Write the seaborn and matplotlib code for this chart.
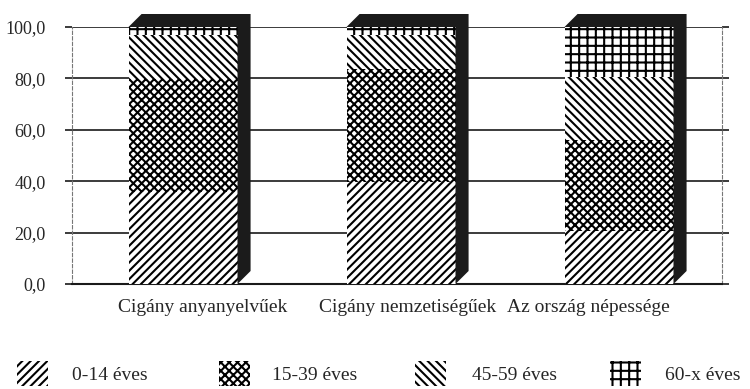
import numpy as np
import pandas as pd
import matplotlib
matplotlib.use("Agg")
import matplotlib.pyplot as plt
from matplotlib.patches import Rectangle
import seaborn as sns

# Age structure (%) of the three population groups
categories = ["Cigány anyanyelvűek", "Cigány nemzetiségűek", "Az ország népessége"]
age_0_14 = [35.7, 39.8, 20.5]
age_15_39 = [43.9, 43.7, 35.6]
age_45_59 = [17.1, 13.4, 24.4]
age_60_x = [3.3, 3.1, 19.5]
legend_labels = ["0-14 éves", "15-39 éves", "45-59 éves", "60-x éves"]
y_ticks = [0, 20, 40, 60, 80, 100]

hatches = ["////", "xxxx", "\\\\\\\\", "++"]

sns.set_style("white")
plt.rcParams["font.family"] = ["Liberation Serif", "DejaVu Serif"]
plt.rcParams["hatch.linewidth"] = 1.5
plt.rcParams["hatch.color"] = "black"

W, H = 750, 389
fig = plt.figure(figsize=(W / 100, H / 100), dpi=100)
ax = fig.add_axes([72 / W, (H - 284) / H, 650 / W, (284 - 27) / H])

layers = np.array([age_0_14, age_15_39, age_45_59, age_60_x])
tops = np.cumsum(layers, axis=0)

# stacked bars: draw the tallest cumulative level first, lower levels on top
for i in range(len(layers) - 1, -1, -1):
    sns.barplot(x=categories, y=tops[i], color="white", saturation=1,
                edgecolor="black", linewidth=0, hatch=hatches[i],
                width=0.5, errorbar=None, ax=ax, zorder=3)

# dark 3-D top and side faces
xs = np.arange(len(categories))
half = 0.25
dx, dy = 0.06, 5.06
for x, total in zip(xs, tops[-1]):
    xl, xr = x - half, x + half
    ax.fill([xl, xl + dx, xr + dx, xr + dx, xr, xr],
            [total, total + dy, total + dy, dy, 0, total],
            color="#1b1b1b", lw=0, zorder=4, clip_on=False)

ax.set_xlim((72 - 183) / 218, (722 - 183) / 218)
ax.set_ylim(0, 100)

ax.set_yticks(y_ticks)
ax.set_yticklabels([f"{v:.1f}".replace(".", ",") for v in y_ticks])
ax.tick_params(axis="y", left=True, right=True, labelright=False,
               length=5, width=1.2, color="#1a1a1a", direction="out",
               pad=14, labelsize=13)
ax.yaxis.grid(True, color="#1a1a1a", lw=1.2)
ax.xaxis.grid(False)
ax.set_axisbelow(True)

ax.set_xticks([0.09, 1.03, 1.86])
ax.set_xticklabels(categories)
ax.tick_params(axis="x", length=0, pad=11, labelsize=14)
ax.set_xlabel("")
ax.set_ylabel("")

ax.spines["top"].set_visible(False)
ax.spines["bottom"].set_color("#1a1a1a")
ax.spines["bottom"].set_linewidth(1.5)
for side in ("left", "right"):
    ax.spines[side].set_color("#777777")
    ax.spines[side].set_linewidth(0.8)
    ax.spines[side].set_linestyle((0, (3, 2)))

# legend row
sw_x = [17, 219, 415, 610]
tx_x = [72, 272, 472, 665]
for hx, tx, hatch, lab in zip(sw_x, tx_x, hatches, legend_labels):
    fig.add_artist(Rectangle((hx / W, 3 / H), 31 / W, 25 / H,
                             transform=fig.transFigure, facecolor="white",
                             edgecolor="black", linewidth=0, hatch=hatch))
    fig.text(tx / W, 13 / H, lab, fontsize=14, va="center", ha="left")

fig.savefig("out.png", dpi=100)
